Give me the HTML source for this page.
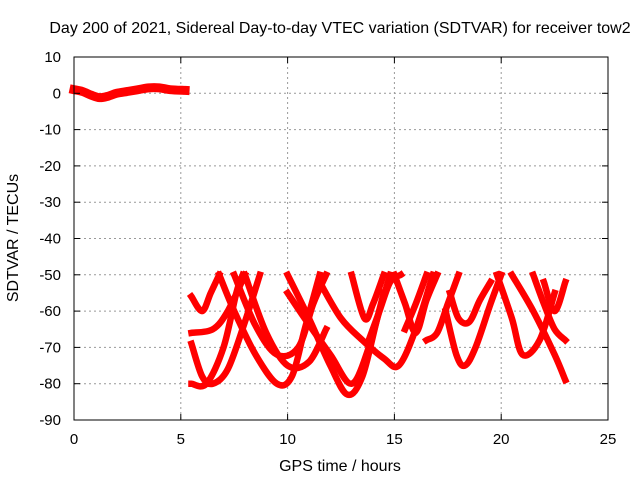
<!DOCTYPE html>
<html><head><meta charset="utf-8"><style>
body{margin:0;background:#fff}
svg{font-family:"Liberation Sans",sans-serif;font-size:15px}
</style></head><body>
<svg id="c" width="640" height="480">
<text x="340" y="33" text-anchor="middle" font-size="16">Day 200 of 2021, Sidereal Day-to-day VTEC variation (SDTVAR) for receiver tow2</text>
<text x="340" y="471" text-anchor="middle" font-size="16">GPS time / hours</text>
<text x="18" y="238" text-anchor="middle" font-size="16" transform="rotate(-90 18 238)">SDTVAR / TECUs</text>
<g id="grid"></g><g id="marks"></g>
<rect x="74" y="57" width="534" height="363" fill="none" stroke="#000"/>
</svg>
<script>
const xTicks=[0,5,10,15,20,25];
const yTicks=[10,0,-10,-20,-30,-40,-50,-60,-70,-80,-90];
const earlySeg=[[0,1],[0.4,0.5],[0.8,-0.5],[1.2,-1.2],[1.6,-0.8],[2,0],[2.5,0.5],[3,1],[3.5,1.5],[4,1.5],[4.5,1],[5.2,0.8]];
const arcs=[
[[5.5,-69],[6,-78],[6.5,-80],[7.2,-76],[8,-63],[8.7,-50]],
[[5.5,-80],[6.2,-80],[7,-70],[7.6,-55],[7.9,-50]],
[[5.5,-56],[6,-60],[6.4,-55],[6.8,-50]],
[[5.5,-66],[6.5,-65],[7.2,-60],[8,-50]],
[[6.8,-50],[7.5,-60],[8.5,-72],[9.5,-80],[10.2,-78],[10.8,-65],[11.5,-50]],
[[7.5,-50],[8.5,-64],[9.5,-72],[10.5,-70],[11.2,-58],[11.8,-50]],
[[8,-50],[9,-66],[10,-75],[11,-74],[11.8,-65]],
[[10,-50],[11,-62],[12,-75],[12.8,-83],[13.5,-78],[14.2,-62],[14.8,-50]],
[[10,-55],[10.8,-62],[12,-72],[13,-80],[13.8,-70],[14.5,-55]],
[[11.5,-52],[12.5,-62],[13.5,-68],[14.5,-73],[15.2,-75],[16,-65],[16.8,-50]],
[[13,-50],[13.6,-62],[14,-58],[14.5,-50]],
[[13.8,-68],[14.3,-60],[14.8,-52],[15.3,-50]],
[[15,-50],[15.5,-58],[16,-66],[16.5,-57],[17,-50]],
[[15.5,-65],[16,-58],[16.5,-50]],
[[16.5,-68],[17,-66],[17.5,-58],[18,-50]],
[[17.4,-60],[17.9,-72],[18.3,-75],[18.8,-70],[19.5,-58],[20,-50]],
[[17.6,-55],[18,-62],[18.5,-63],[19,-57],[19.5,-52]],
[[19.8,-50],[20.5,-62],[21,-72],[21.8,-68],[22.5,-55]],
[[20.5,-50],[21.5,-60],[22.5,-72],[23,-79]],
[[21.5,-50],[22,-58],[22.5,-65],[23,-68]],
[[22,-52],[22.5,-60],[23,-52]]
];
const NS="http://www.w3.org/2000/svg";
const X0=74,X1=608,Y0=420,Y1=57;
function sx(v){return X0+(v-0)/25*(X1-X0);}
function sy(v){return Y0-(v+90)/100*(Y0-Y1);}
const grid=document.getElementById('grid'),svg=document.getElementById('c'),marks=document.getElementById('marks');
function mk(t,a,p){const e=document.createElementNS(NS,t);for(const k in a)e.setAttribute(k,a[k]);(p||svg).appendChild(e);return e;}
xTicks.forEach(v=>{const x=sx(v);
 if(v>0&&v<25){const l=mk('line',{x1:x,x2:x,y1:Y1,y2:Y0,stroke:'#999','stroke-dasharray':'2,3'},grid);
 
 }
 mk('line',{x1:x,x2:x,y1:Y0,y2:Y0-6,stroke:'#000'});mk('line',{x1:x,x2:x,y1:Y1,y2:Y1+6,stroke:'#000'});
 const t=mk('text',{x:x,y:444,'text-anchor':'middle'});t.textContent=v;
 
 });
yTicks.forEach(v=>{const y=sy(v);
 if(v>-90&&v<10){const l=mk('line',{x1:X0,x2:X1,y1:y,y2:y,stroke:'#999','stroke-dasharray':'2,3'},grid);
 
 }
 mk('line',{x1:X0,x2:X0+6,y1:y,y2:y,stroke:'#000'});mk('line',{x1:X1,x2:X1-6,y1:y,y2:y,stroke:'#000'});
 const t=mk('text',{x:61,y:y+5,'text-anchor':'end'});t.textContent=v;
 
 });
function smooth(pts){const P=pts.map(q=>[sx(q[0]),sy(q[1])]);let d='M'+P[0][0]+','+P[0][1];
 for(let i=0;i<P.length-1;i++){const p0=P[i-1]||P[i],p1=P[i],p2=P[i+1],p3=P[i+2]||p2;
  const c1=[p1[0]+(p2[0]-p0[0])/6,p1[1]+(p2[1]-p0[1])/6],c2=[p2[0]-(p3[0]-p1[0])/6,p2[1]-(p3[1]-p1[1])/6];
  d+=' C'+c1[0]+','+c1[1]+' '+c2[0]+','+c2[1]+' '+p2[0]+','+p2[1];}
 return d;}
function poly(pts,w){return mk('path',{d:smooth(pts),fill:'none',stroke:'#f00','stroke-width':w,'stroke-linejoin':'round','stroke-linecap':'square'},marks);}
const e=poly(earlySeg,9);


arcs.forEach(a=>{const p=poly(a,6.5);
 
 });
</script>
</body></html>
